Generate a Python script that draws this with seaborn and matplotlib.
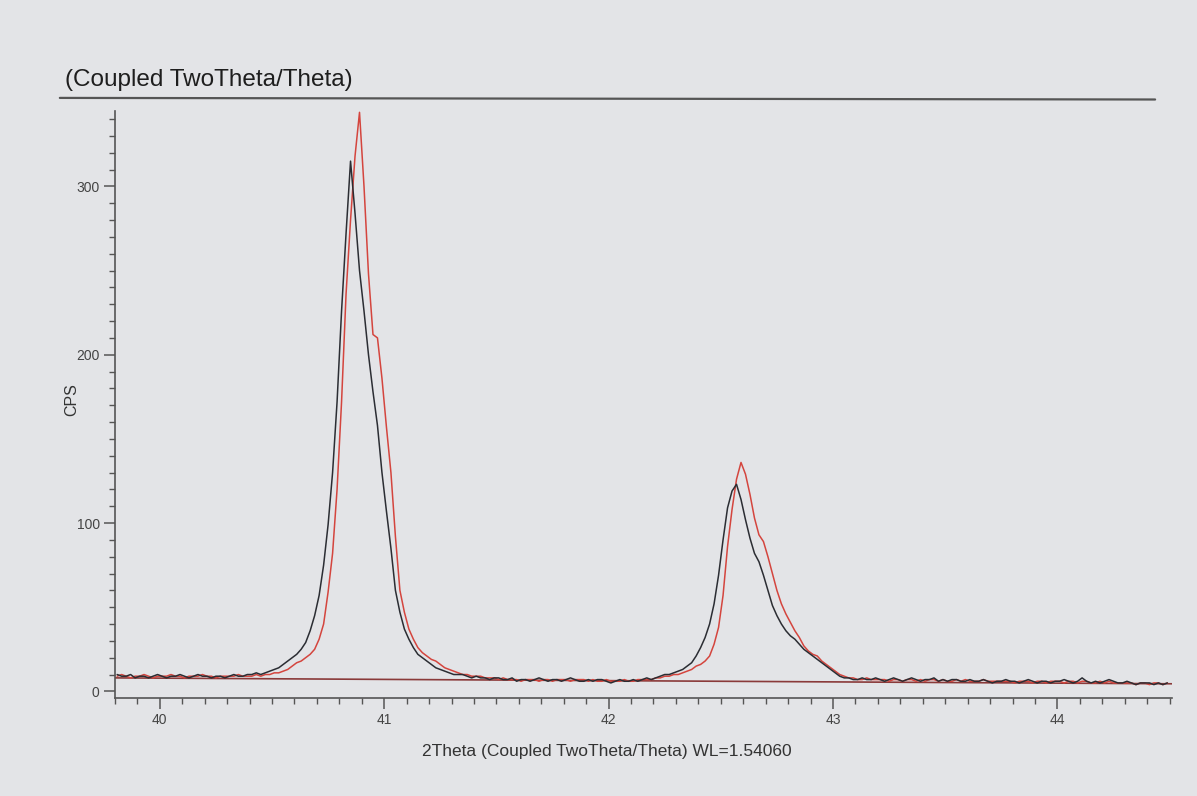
import numpy as np
import pandas as pd
import matplotlib
matplotlib.use("Agg")
import matplotlib.pyplot as plt
from matplotlib.lines import Line2D
from matplotlib.ticker import MultipleLocator
import seaborn as sns

# scan grid: 0.02 deg steps, 39.81 .. 44.49
two_theta = np.round(39.81 + 0.02 * np.arange(235), 2)

# black scan (CPS)
black_a = [10, 9, 9, 10, 8, 9, 9, 8, 9, 10, 9, 8, 9, 9, 10, 9, 8, 9, 10, 9,
           9, 8, 9, 9, 8, 9, 10, 9, 9, 10]
black_b = [10, 11, 10, 11, 12, 13, 14, 16, 18, 20,
           22, 25, 29, 36, 45, 57, 75, 99, 130, 172,
           226, 272, 315, 284, 250, 226, 200, 178, 158, 130,
           107, 85, 60, 47, 37, 31, 26, 22, 20, 18,
           16, 14, 13, 12, 11, 10, 10, 10, 9, 8,
           9, 8, 8, 7, 8]
black_c = [8, 7, 7, 8, 6, 7, 7, 6, 7, 8, 7, 6, 7, 7, 6, 7, 8, 7, 6, 6,
           7, 6, 7, 7, 6, 5, 6, 7, 6, 6, 7, 6, 7, 8, 7]
black_d = [8, 9, 10, 10, 11, 12, 13, 15, 17, 21,
           26, 32, 40, 52, 69, 90, 109, 119, 123, 114,
           102, 91, 82, 77, 69, 60, 51, 45, 40, 36,
           33, 31, 28, 25, 23, 21, 19, 17, 15, 13,
           11, 9, 8, 8, 7, 7, 8, 7, 7, 8]
black_e = [7, 6, 7, 8, 7, 6, 7, 8, 7, 6, 7, 7, 8, 6, 7, 6, 7, 7, 6, 6,
           7, 6, 6, 7, 6, 5, 6, 6, 7, 6, 6, 5, 6, 7, 6, 5, 6, 6, 5, 6,
           6, 7, 6, 5, 6, 8, 6, 5, 6, 5, 6, 7, 6, 5, 5, 6, 5, 4, 5, 5,
           5, 4, 5, 4, 5]

# red scan (CPS)
red_a = [9, 10, 9, 8, 9, 9, 10, 9, 8, 9, 9, 9, 10, 9, 9, 8, 9, 9, 9, 10,
         9, 9, 8, 9, 9, 9, 9, 10, 9, 9]
red_b = [9, 10, 9, 10, 10, 11, 11, 12, 13, 15,
         17, 18, 20, 22, 25, 31, 40, 59, 82, 120,
         172, 236, 280, 318, 344, 300, 248, 212, 210, 186,
         157, 130, 92, 60, 47, 37, 31, 26, 23, 21,
         19, 18, 16, 14, 13, 12, 11, 10, 10, 9,
         9, 9, 8, 8, 8]
red_c = [7, 8, 7, 7, 7, 6, 7, 7, 7, 6, 7, 7, 6, 7, 7, 7, 6, 7, 7, 7,
         6, 7, 6, 6, 7, 6, 6, 6, 7, 6, 6, 7, 7, 7, 7]
red_d = [8, 8, 9, 9, 10, 10, 11, 12, 13, 15,
         16, 18, 21, 28, 38, 57, 86, 108, 126, 136,
         129, 117, 103, 93, 89, 80, 70, 60, 52, 46,
         41, 36, 32, 27, 24, 22, 21, 18, 16, 14,
         12, 10, 9, 8, 8, 7, 7, 8, 7, 7]
red_e = [7, 7, 6, 7, 7, 6, 7, 7, 6, 7, 6, 7, 7, 6, 7, 6, 6, 7, 6, 7,
         6, 6, 6, 7, 6, 6, 6, 6, 6, 6, 5, 6, 6, 6, 5, 6, 6, 5, 6, 6,
         6, 5, 6, 6, 5, 6, 6, 5, 5, 6, 5, 6, 5, 5, 5, 5, 5, 4, 5, 5,
         4, 5, 5, 4, 5]

# straight background line
bg_x = [39.80, 44.51]
bg_y = [8.0, 4.5]

black_cps = black_a + black_b + black_c + black_d + black_e
red_cps = red_a + red_b + red_c + red_d + red_e

df = pd.DataFrame({
    "two_theta": np.concatenate([two_theta, two_theta]),
    "cps": black_cps + red_cps,
    "scan": ["black"] * len(black_cps) + ["red"] * len(red_cps),
})

paper = "#e3e4e7"
sns.set_style("ticks")
plt.rcParams["font.family"] = ["Liberation Sans", "DejaVu Sans"]

fig = plt.figure(figsize=(11.97, 7.96), dpi=100, facecolor=paper)
ax = fig.add_axes([0.096, 0.123, 0.883, 0.738])
ax.set_facecolor(paper)

ax.plot(bg_x, bg_y, color="#8a3a3a", lw=1.2, zorder=1)
sns.lineplot(data=df, x="two_theta", y="cps", hue="scan",
             palette={"black": "#2b2d33", "red": "#d4453e"},
             hue_order=["red", "black"], linewidth=1.1,
             legend=False, ax=ax, zorder=2)

ax.set_xlim(39.80, 44.51)
ax.set_ylim(-4, 345)
ax.xaxis.set_major_locator(MultipleLocator(1))
ax.xaxis.set_minor_locator(MultipleLocator(0.1))
ax.yaxis.set_major_locator(MultipleLocator(100))
ax.yaxis.set_minor_locator(MultipleLocator(10))
ax.tick_params(which="major", length=8, width=1.1, color="#555555",
               labelsize=10, labelcolor="#444444", pad=3)
ax.tick_params(which="minor", length=4, width=1.0, color="#555555")
for side in ["top", "right"]:
    ax.spines[side].set_visible(False)
for side in ["left", "bottom"]:
    ax.spines[side].set_color("#555555")
    ax.spines[side].set_linewidth(1.2)

ax.set_xlabel("2Theta (Coupled TwoTheta/Theta) WL=1.54060",
              fontsize=12.5, color="#333333")
ax.xaxis.set_label_coords(0.465, -0.078)
ax.set_ylabel("CPS", fontsize=11.5, color="#333333")
ax.yaxis.set_label_coords(-0.034, 0.508)

fig.text(0.054, 0.899, "(Coupled TwoTheta/Theta)", fontsize=17.5,
         color="#1e1e1e", va="center", ha="left", fontweight="medium")
fig.add_artist(Line2D([0.050, 0.965], [0.877, 0.875], color="#555555",
                      lw=1.6, transform=fig.transFigure))

fig.savefig("out.png", dpi=100, facecolor=paper)
